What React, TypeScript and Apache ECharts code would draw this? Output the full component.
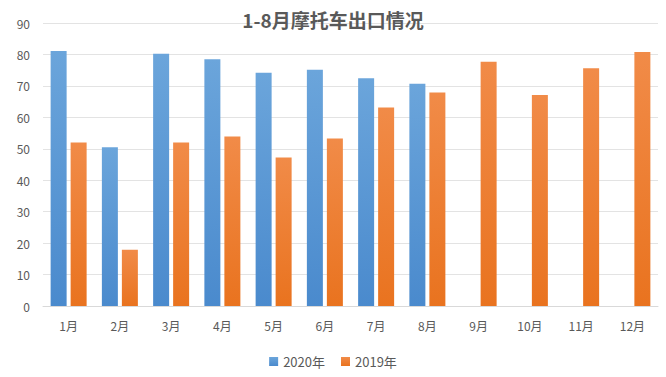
import React, { useEffect, useRef } from "react";
import * as echarts from "echarts";

const categories = ["1月", "2月", "3月", "4月", "5月", "6月", "7月", "8月", "9月", "10月", "11月", "12月"];
const series2020 = [81.1, 50.5, 80.2, 78.5, 74.2, 75.1, 72.4, 70.7, null, null, null, null];
const series2019 = [52.0, 17.9, 52.0, 53.9, 47.2, 53.3, 63.1, 67.9, 77.7, 67.1, 75.6, 80.8];
const yTicks = [0, 10, 20, 30, 40, 50, 60, 70, 80, 90];

export default function App() {
  const ref = useRef<HTMLDivElement>(null);
  useEffect(() => {
    if (!ref.current) return;
    const chart = echarts.init(ref.current, null, { renderer: "svg" });
    const font = "'Noto Sans CJK SC', 'Noto Sans', sans-serif";
    chart.setOption({
      animation: false,
      backgroundColor: "#ffffff",
      title: {
        text: "1-8月摩托车出口情况",
        left: "center",
        top: 5,
        textStyle: { fontFamily: font, fontSize: 19, fontWeight: "bold", color: "#595959" },
      },
      legend: {
        bottom: 4,
        left: "center",
        itemWidth: 9,
        itemHeight: 9,
        itemGap: 16,
        icon: "rect",
        textStyle: { fontFamily: font, fontSize: 13, color: "#595959" },
        data: ["2020年", "2019年"],
      },
      grid: { left: 43, right: 8, top: 23, bottom: 71, containLabel: false },
      xAxis: {
        type: "category",
        data: categories,
        axisTick: { show: false },
        axisLine: { lineStyle: { color: "#d9d9d9" } },
        axisLabel: { fontFamily: font, fontSize: 12, color: "#595959", margin: 13 },
      },
      yAxis: {
        type: "value",
        min: yTicks[0],
        max: yTicks[yTicks.length - 1],
        interval: 10,
        axisLine: { show: false },
        axisTick: { show: false },
        splitLine: { lineStyle: { color: "#e3e3e3" } },
        axisLabel: { fontFamily: font, fontSize: 12, color: "#595959", margin: 13 },
      },
      series: [
        {
          name: "2020年",
          type: "bar",
          data: series2020,
          barWidth: 16,
          barGap: "25%",
          itemStyle: {
            color: new echarts.graphic.LinearGradient(0, 0, 0, 1, [
              { offset: 0, color: "#6ba5db" },
              { offset: 1, color: "#4a8acd" },
            ]),
          },
        },
        {
          name: "2019年",
          type: "bar",
          data: series2019,
          barWidth: 16,
          itemStyle: {
            color: new echarts.graphic.LinearGradient(0, 0, 0, 1, [
              { offset: 0, color: "#f18b48" },
              { offset: 1, color: "#e9731f" },
            ]),
          },
        },
      ],
      color: ["#5b9bd5", "#ed7d31"],
    });
    return () => chart.dispose();
  }, []);
  return (
    <div
      ref={ref}
      style={{ position: "absolute", left: 0, top: 0, width: 666, height: 377 }}
    />
  );
}
